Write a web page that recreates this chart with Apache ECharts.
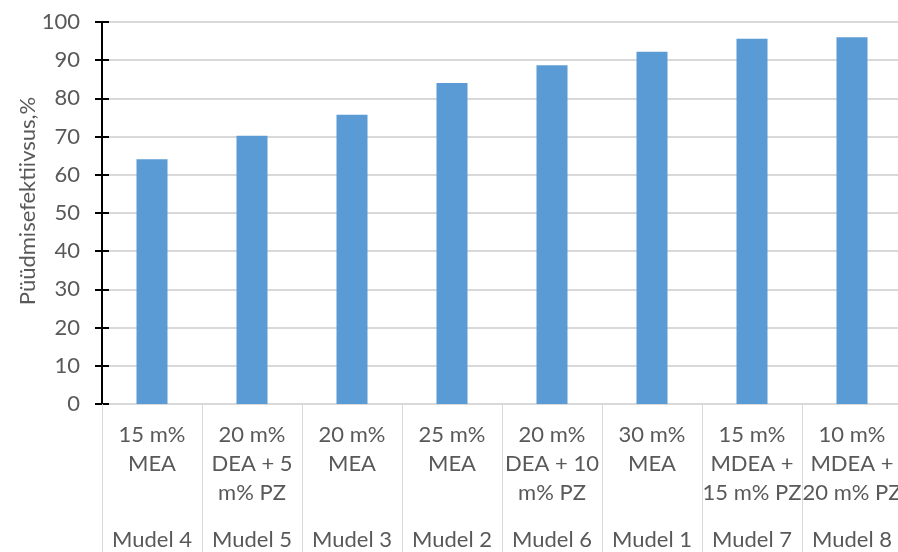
<!DOCTYPE html>
<html>
<head>
<meta charset="utf-8">
<style>
  html, body { margin: 0; padding: 0; background: #ffffff; }
  #chart { width: 898px; height: 552px; }
</style>
<script src="https://cdn.jsdelivr.net/npm/echarts@6/dist/echarts.min.js"></script>
</head>
<body>
<div id="chart"></div>
<script>
// Solvent compositions (upper label row) and model names (lower label row)
const compositions = [
  '15 m%\nMEA',
  '20 m%\nDEA + 5\nm% PZ',
  '20 m%\nMEA',
  '25 m%\nMEA',
  '20 m%\nDEA + 10\nm% PZ',
  '30 m%\nMEA',
  '15 m%\nMDEA +\n15 m% PZ',
  '10 m%\nMDEA +\n20 m% PZ'
];
const models = ['Mudel 4', 'Mudel 5', 'Mudel 3', 'Mudel 2', 'Mudel 6', 'Mudel 1', 'Mudel 7', 'Mudel 8'];
// Capture efficiency, %
const efficiency = [64.1, 70.2, 75.7, 84.0, 88.7, 92.2, 95.6, 96.0];
const yTicks = { min: 0, max: 100, interval: 10 };

const FONT = 'Lato';
const TEXT = '#595959';
const GRID = '#d9d9d9';

const chart = echarts.init(document.getElementById('chart'));
chart.setOption({
  animation: false,
  textStyle: { fontFamily: FONT },
  grid: {
    left: 102, top: 22, width: 800, bottom: 148,
    containLabel: false, outerBoundsMode: 'none'
  },
  xAxis: [
    {
      type: 'category',
      data: compositions,
      position: 'bottom',
      axisLine: { show: true, lineStyle: { color: GRID, width: 1 } },
      axisTick: { show: true, length: 150, lineStyle: { color: GRID, width: 1 } },
      axisLabel: {
        interval: 0, margin: 16, color: TEXT, fontFamily: FONT,
        fontSize: 22, lineHeight: 29, verticalAlign: 'top'
      },
      splitLine: { show: false }
    },
    {
      type: 'category',
      data: models,
      position: 'bottom',
      axisLine: { show: false },
      axisTick: { show: false },
      axisLabel: {
        interval: 0, margin: 121, color: TEXT, fontFamily: FONT,
        fontSize: 22, lineHeight: 29, verticalAlign: 'top'
      }
    }
  ],
  yAxis: [
    {
      type: 'value',
      min: yTicks.min, max: yTicks.max, interval: yTicks.interval,
      name: 'Püüdmisefektiivsus,%',
      nameLocation: 'middle',
      nameGap: 63,
      nameMoveOverlap: false,
      nameTextStyle: { color: TEXT, fontFamily: FONT, fontSize: 22, padding: [0, 0, 0, 24] },
      axisLine: { show: true, lineStyle: { color: '#000000', width: 2 } },
      axisTick: { show: true, length: 7, lineStyle: { color: '#000000', width: 2 } },
      axisLabel: { margin: 22, color: TEXT, fontFamily: FONT, fontSize: 22 },
      splitLine: { show: true, lineStyle: { color: GRID, width: 2 } }
    },
    {
      // inner half of the crossing tick marks
      type: 'value',
      position: 'left',
      min: yTicks.min, max: yTicks.max, interval: yTicks.interval,
      axisLine: { show: false },
      axisTick: { show: true, inside: true, length: 7, lineStyle: { color: '#000000', width: 2 } },
      axisLabel: { show: false },
      splitLine: { show: false }
    }
  ],
  series: [
    {
      type: 'bar',
      data: efficiency,
      barWidth: '31%',
      itemStyle: { color: '#5b9bd5' }
    }
  ]
});
</script>
</body>
</html>
